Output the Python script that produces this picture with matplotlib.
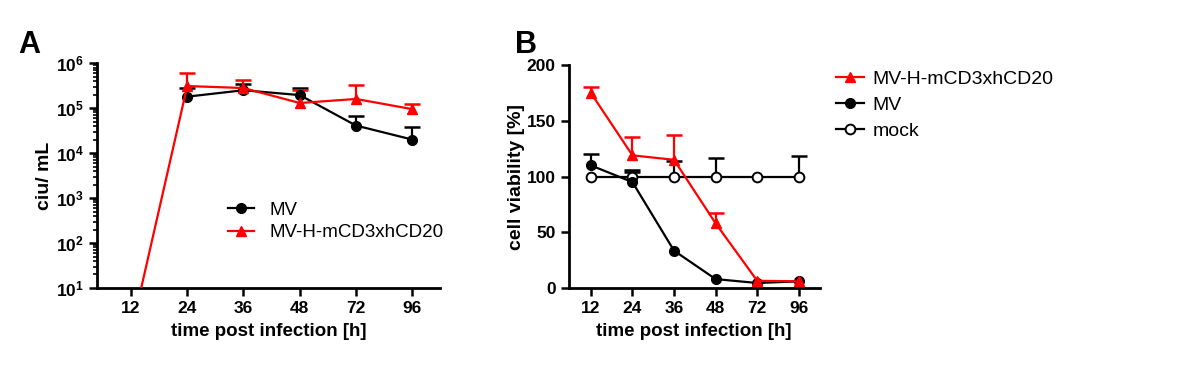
import numpy as np
import matplotlib
matplotlib.use('Agg')
import matplotlib.pyplot as plt
from matplotlib import font_manager
from matplotlib.ticker import FixedLocator, FuncFormatter, LogLocator, NullFormatter

names = {f.name for f in font_manager.fontManager.ttflist}
FONT = 'Liberation Sans' if 'Liberation Sans' in names else 'DejaVu Sans'
NARROW = 'Liberation Sans Narrow' if 'Liberation Sans Narrow' in names else FONT

plt.rcParams['font.family'] = FONT
plt.rcParams['mathtext.fontset'] = 'custom'
plt.rcParams['mathtext.rm'] = FONT
plt.rcParams['mathtext.bf'] = FONT + ':bold'

# data
time_labels = ['12', '24', '36', '48', '72', '96']

# panel A: virus titer (ciu/mL), mean and upper SD
titer_mv = [np.nan, 1.8e5, 2.5e5, 1.95e5, 4.1e4, 2.0e4]
titer_mv_err = [0, 0.95e5, 1.0e5, 0.8e5, 2.7e4, 1.8e4]
titer_cd20 = [1.0, 3.1e5, 2.8e5, 1.3e5, 1.6e5, 9.5e4]
titer_cd20_err = [0, 2.9e5, 1.4e5, 1.2e5, 1.6e5, 3.0e4]

# panel B: cell viability (%)
via_cd20 = [175, 119, 115, 58, 6.5, 6]
via_cd20_err = [5, 16.5, 22, 9, 0, 0]
via_mv = [110, 95, 33.5, 8, 4.5, 6]
via_mv_err = [10, 11, 0, 0, 0, 0]
via_mock = [100, 100, 100, 100, 100, 100]
via_mock_err = [0, 4, 14, 17, 0, 18]

RED = '#ff0000'
x = np.arange(len(time_labels))


def upper_err(ax, y, err, color):
    y = np.asarray(y, float)
    err = np.asarray(err, float)
    m = (err > 0) & ~np.isnan(y)
    ax.vlines(x[m], y[m], y[m] + err[m], color=color, lw=1.6, zorder=2)
    ax.plot(x[m], y[m] + err[m], ls='none', marker='_', ms=11, mew=1.8,
            color=color, zorder=2)


def style(ax, family):
    for s in ['top', 'right']:
        ax.spines[s].set_visible(False)
    for s in ['left', 'bottom']:
        ax.spines[s].set_linewidth(2)
    ax.tick_params(which='major', direction='out', length=6, width=1.8,
                   labelsize=12.5)
    ax.tick_params(which='minor', direction='out', length=3, width=1.2)
    ax.set_xticks(x)
    ax.set_xticklabels(time_labels)
    for lab in ax.get_xticklabels() + ax.get_yticklabels():
        lab.set_fontweight('bold')
        lab.set_family(family)
    ax.set_xlabel('time post infection [h]', fontsize=13.5, fontweight='bold',
                  family=family, labelpad=5)


fig = plt.figure(figsize=(12, 3.76), dpi=100)

# ---- panel A
axA = fig.add_axes([0.081, 0.234, 0.286, 0.598])
axA.set_yscale('log')
upper_err(axA, titer_mv, titer_mv_err, 'black')
upper_err(axA, titer_cd20, titer_cd20_err, RED)
axA.plot(x, titer_mv, color='black', lw=1.6, marker='o', ms=7, label='MV', zorder=3)
axA.plot(x, titer_cd20, color=RED, lw=1.6, marker='^', ms=7,
         label='MV-H-mCD3xhCD20', zorder=4)
axA.set_ylim(10, 1e6)
axA.set_xlim(-0.6, 5.5)
axA.yaxis.set_major_locator(FixedLocator([10.0 ** k for k in range(1, 7)]))
axA.yaxis.set_major_formatter(FuncFormatter(lambda v, p: r'$\mathbf{10^{%d}}$' % round(np.log10(v))))
axA.yaxis.set_minor_locator(LogLocator(base=10, subs=np.arange(2, 10), numticks=20))
axA.yaxis.set_minor_formatter(NullFormatter())
style(axA, FONT)
axA.set_ylabel('ciu/ mL', fontsize=14, fontweight='bold', labelpad=2)
axA.legend(loc='upper left', bbox_to_anchor=(0.19, 0.464), bbox_transform=fig.transFigure,
           frameon=False, fontsize=13.5, handlelength=1.4, handletextpad=0.8,
           labelspacing=0.3, borderpad=0, borderaxespad=0)

# ---- panel B
axB = fig.add_axes([0.474, 0.234, 0.209, 0.593])
upper_err(axB, via_cd20, via_cd20_err, RED)
upper_err(axB, via_mv, via_mv_err, 'black')
upper_err(axB, via_mock, via_mock_err, 'black')
axB.plot(x, via_mock, color='black', lw=1.6, marker='o', ms=7, mfc='white',
         mew=1.4, label='mock', zorder=3)
axB.plot(x, via_mv, color='black', lw=1.6, marker='o', ms=7, label='MV', zorder=4)
axB.plot(x, via_cd20, color=RED, lw=1.6, marker='^', ms=7,
         label='MV-H-mCD3xhCD20', zorder=5)
axB.set_ylim(0, 200)
axB.set_xlim(-0.53, 5.5)
axB.set_yticks([0, 50, 100, 150, 200])
style(axB, NARROW)
axB.set_ylabel('cell viability [%]', fontsize=14, fontweight='bold', labelpad=1)
h, l = axB.get_legend_handles_labels()
axB.legend(h[::-1], l[::-1], loc='upper left', bbox_to_anchor=(0.697, 0.814),
           bbox_transform=fig.transFigure, frameon=False,
           prop={'family': NARROW, 'size': 14}, handlelength=1.4,
           handletextpad=0.45, labelspacing=0.45, borderpad=0, borderaxespad=0)

fig.text(0.015, 0.86, 'A', fontsize=22, fontweight='bold')
fig.text(0.429, 0.86, 'B', fontsize=22, fontweight='bold')

fig.savefig('out.png', dpi=100)
